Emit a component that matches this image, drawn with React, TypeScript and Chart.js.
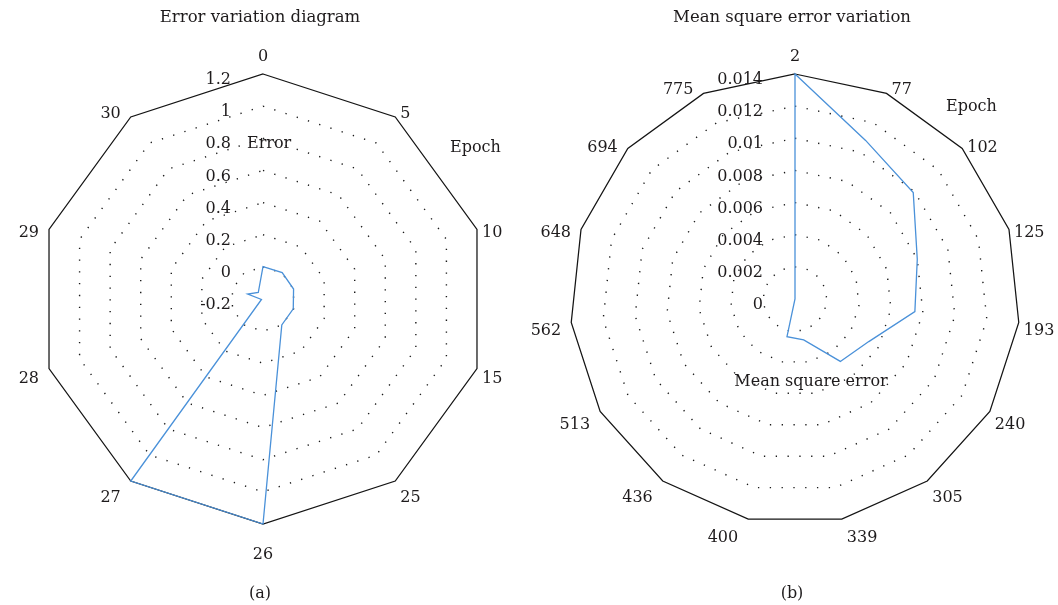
import React, { useEffect, useRef } from "react";
import { Chart, registerables } from "chart.js";

Chart.register(...registerables);

// ---------- data ----------
const errorEpochs = ["0", "5", "10", "15", "25", "26", "27", "28", "29", "30"];
const errorValues = [0.002, 0.003, 0.0, -0.002, -0.001, 1.2, 1.2, -0.19, -0.1, -0.15];
const errorTickLabels = ["-0.2", "0", "0.2", "0.4", "0.6", "0.8", "1", "1.2"];

const mseEpochs = ["2", "77", "102", "125", "193", "240", "305", "339", "400", "436", "513", "562", "648", "694", "775"];
const mseValues = [0.014, 0.0108, 0.0099, 0.008, 0.0075, 0.0053, 0.0048, 0.0026, 0.0024, 0, 0, 0, 0, 0, 0];
const mseTickLabels = ["0", "0.002", "0.004", "0.006", "0.008", "0.01", "0.012", "0.014"];

// ---------- style ----------
const FONT = '16px "DejaVu Serif"';
const TITLE_FONT = '16.5px "DejaVu Serif"';
const TEXT = "#1e1b1c";
const LINE = "#4a91d9";
const OUTER = "#141414";
const DOT = "#1a1a1a";

type Extra = {
  title: string;
  caption: string;
  tickLabels: string[];
  draw: (ctx: CanvasRenderingContext2D, s: any) => void;
};

function textPlugin(o: Extra) {
  return {
    id: "customText",
    afterDraw(chart: any) {
      const s: any = chart.scales.r;
      const ctx: CanvasRenderingContext2D = chart.ctx;
      const cx = s.xCenter;
      const cy = s.yCenter;
      const R = s.drawingArea;
      ctx.save();
      ctx.fillStyle = TEXT;
      ctx.font = FONT;
      ctx.textBaseline = "middle";

      // radial tick labels, left of the vertical axis
      ctx.textAlign = "right";
      s.ticks.forEach((t: any, i: number) => {
        const d = s.getDistanceFromCenterForValue(t.value);
        if (o.tickLabels[i] !== undefined) ctx.fillText(o.tickLabels[i], cx - 32, cy - d + 6);
      });

      // point (epoch) labels
      const labels = chart.data.labels as string[];
      labels.forEach((txt, i) => {
        const p = s.getPointPosition(i, R);
        const th = s.getIndexAngle(i);
        const sn = Math.sin(th);
        const cs = Math.cos(th);
        if (Math.abs(sn) < 0.01) {
          ctx.textAlign = "center";
          ctx.fillText(txt, p.x, cs > 0 ? p.y - 17 : p.y + 31);
        } else {
          ctx.textAlign = sn > 0 ? "left" : "right";
          ctx.fillText(txt, p.x + (sn > 0 ? 5 : -10), p.y + 7 - 12 * cs);
        }
      });

      o.draw(ctx, s);

      // title and caption
      ctx.textAlign = "center";
      ctx.font = TITLE_FONT;
      ctx.fillText(o.title, cx - 3, 18);
      ctx.font = FONT;
      ctx.fillText(o.caption, cx - 3, 594);
      ctx.restore();
    },
  };
}

function isLast(c: any) {
  return c.index === c.scale.ticks.length - 1;
}

function makeConfig(
  labels: string[],
  values: number[],
  min: number,
  max: number,
  step: number,
  padding: { left: number; right: number; top: number; bottom: number },
  extra: Extra
): any {
  return {
    type: "radar",
    data: {
      labels,
      datasets: [
        {
          data: values,
          borderColor: LINE,
          borderWidth: 1.3,
          backgroundColor: "rgba(0,0,0,0)",
          fill: false,
          pointRadius: 0,
          tension: 0,
        },
      ],
    },
    options: {
      responsive: false,
      animation: false,
      layout: { padding },
      plugins: {
        legend: { display: false },
        tooltip: { enabled: false },
        title: { display: false },
      },
      scales: {
        r: {
          min,
          max,
          startAngle: 0,
          ticks: { display: false, stepSize: step },
          pointLabels: { display: false },
          angleLines: { display: false },
          grid: {
            circular: false,
            color: (c: any) => (isLast(c) ? OUTER : DOT),
            lineWidth: (c: any) => (isLast(c) ? 1.25 : 1.4),
          },
          border: {
            dash: (c: any) => (isLast(c) ? [] : [1.3, 10.5]),
          },
        },
      },
    },
    plugins: [textPlugin(extra)],
  };
}

function RadarCanvas({ config, left }: { config: any; left: number }) {
  const ref = useRef<HTMLCanvasElement | null>(null);
  useEffect(() => {
    if (!ref.current) return;
    const chart = new Chart(ref.current, config);
    return () => chart.destroy();
  }, [config]);
  return (
    <canvas
      ref={ref}
      width={529}
      height={605}
      style={{ position: "absolute", left, top: 0, width: 529, height: 605 }}
    />
  );
}

const leftConfig = makeConfig(
  errorEpochs,
  errorValues,
  -0.2,
  1.2,
  0.2,
  { left: 38, right: 41, top: 74, bottom: 81 },
  {
    title: "Error variation diagram",
    caption: "(a)",
    tickLabels: errorTickLabels,
    draw: (ctx, s) => {
      const cx = s.xCenter;
      const cy = s.yCenter;
      ctx.textAlign = "left";
      ctx.fillText("Error", cx - 16, cy - s.getDistanceFromCenterForValue(0.8) + 6);
      ctx.fillText("Epoch", cx + 187, cy - 151);
    },
  }
);

const rightConfig = makeConfig(
  mseEpochs,
  mseValues,
  0,
  0.014,
  0.002,
  { left: 41, right: 38, top: 74, bottom: 81 },
  {
    title: "Mean square error variation",
    caption: "(b)",
    tickLabels: mseTickLabels,
    draw: (ctx, s) => {
      const cx = s.xCenter;
      const cy = s.yCenter;
      ctx.textAlign = "left";
      ctx.fillText("Epoch", cx + 151, cy - 192);
      ctx.textAlign = "center";
      ctx.fillText("Mean square error", cx + 16, cy + 83);
    },
  }
);

export default function App() {
  return (
    <div
      style={{
        position: "absolute",
        left: 0,
        top: 0,
        width: 1058,
        height: 605,
        background: "#ffffff",
        overflow: "hidden",
      }}
    >
      <RadarCanvas config={leftConfig} left={0} />
      <RadarCanvas config={rightConfig} left={529} />
    </div>
  );
}
